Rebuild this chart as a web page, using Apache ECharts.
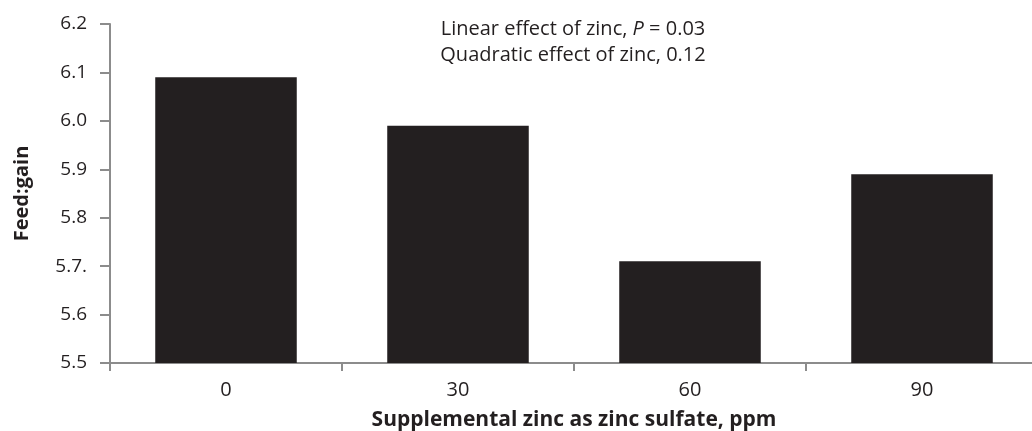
<!DOCTYPE html>
<html>
<head>
<meta charset="utf-8">
<script src="https://cdn.jsdelivr.net/npm/echarts@6/dist/echarts.min.js"></script>
<style>
  html, body { margin: 0; padding: 0; background: #fff; }
  #chart { width: 1032px; height: 431px; }
</style>
</head>
<body>
<div id="chart"></div>
<script>
// zinc levels, ppm
const categories = ['0', '30', '60', '90']
const feedGain = [6.09, 5.99, 5.71, 5.89]
// tick labels as printed (5.7. typo kept)
const yTickLabels = ['5.5', '5.6', '5.7.', '5.8', '5.9', '6.0', '6.1', '6.2']
const noteLines = ['Linear effect of zinc, {i|P} = 0.03', 'Quadratic effect of zinc, 0.12']

const font = '"Open Sans", "Noto Sans", sans-serif'
const axisGrey = '#8c8c8c'
const ink = '#231f20'

const myChart = echarts.init(document.getElementById('chart'))
let option = {
  animation: false,
  textStyle: { fontFamily: font },
  grid: { left: 110, top: 24, width: 928, height: 339, containLabel: false, outerBoundsMode: 'none' },
  graphic: [{
    type: 'text',
    style: {
      text: noteLines.join('\n'),
      x: 573,
      y: 16,
      align: 'center',
      verticalAlign: 'top',
      fontSize: 20,
      fontFamily: font,
      fill: ink,
      lineHeight: 26,
      rich: { i: { fontStyle: 'italic', fontSize: 20, fontFamily: font, lineHeight: 26 } }
    }
  }],
  xAxis: {
    type: 'category',
    data: categories,
    name: 'Supplemental zinc as zinc sulfate, ppm',
    nameLocation: 'middle',
    nameGap: 47,
    nameTextStyle: { fontSize: 21, fontWeight: 'bold', color: ink },
    axisLine: { lineStyle: { color: axisGrey, width: 2 } },
    axisTick: { show: true, length: 8, lineStyle: { color: axisGrey, width: 2 } },
    axisLabel: { fontSize: 20, color: ink, margin: 17 }
  },
  yAxis: {
    type: 'value',
    min: 5.5,
    max: 6.2,
    interval: 0.1,
    name: 'Feed:gain',
    nameLocation: 'middle',
    nameGap: 78,
    nameTextStyle: { fontSize: 20, fontWeight: 'bold', color: ink },
    splitLine: { show: false },
    axisLine: { show: true, lineStyle: { color: axisGrey, width: 2 } },
    axisTick: { show: true, length: 10, lineStyle: { color: axisGrey, width: 2 } },
    axisLabel: {
      fontSize: 19,
      color: ink,
      margin: 23,
      formatter: function (v) {
        return yTickLabels[Math.round((v - 5.5) * 10)]
      }
    }
  },
  series: [{
    type: 'bar',
    data: feedGain,
    barCategoryGap: '39%',
    itemStyle: { color: ink }
  }]
}
option && myChart.setOption(option)
</script>
</body>
</html>
